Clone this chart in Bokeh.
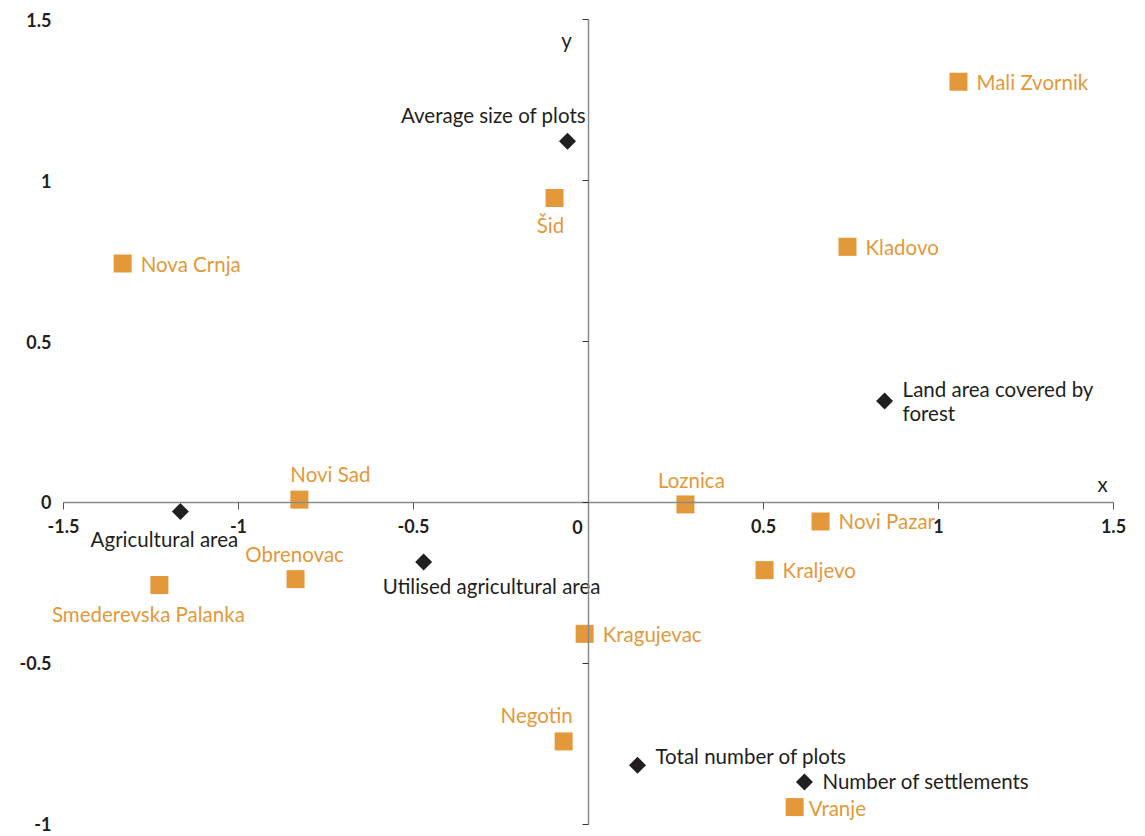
from math import pi

from bokeh.core.properties import value
from bokeh.embed import file_html
from bokeh.models import ColumnDataSource, FixedTicker, Label, LinearAxis, Range1d
from bokeh.plotting import figure
from bokeh.resources import INLINE

# District scores on the first two components
district_names = [
    "Mali Zvornik", "Šid", "Kladovo", "Nova Crnja", "Novi Sad", "Loznica",
    "Novi Pazar", "Obrenovac", "Smederevska Palanka", "Kraljevo",
    "Kragujevac", "Negotin", "Vranje",
]
district_x = [1.057, -0.097, 0.74, -1.331, -0.826, 0.277, 0.663, -0.837,
              -1.226, 0.503, -0.011, -0.071, 0.589]
district_y = [1.307, 0.946, 0.794, 0.742, 0.009, -0.006, -0.059, -0.238,
              -0.256, -0.21, -0.408, -0.742, -0.946]

# Variable loadings
variable_names = [
    "Average size of plots", "Land area covered by\nforest",
    "Agricultural area", "Utilised agricultural area",
    "Total number of plots", "Number of settlements",
]
variable_x = [-0.06, 0.846, -1.166, -0.471, 0.14, 0.617]
variable_y = [1.122, 0.315, -0.028, -0.185, -0.816, -0.868]

x_ticks = [-1.5, -1, -0.5, 0, 0.5, 1, 1.5]
x_tick_labels = ["-1.5", "-1", "-0.5", "", "0.5", "1", "1.5"]
y_ticks = [-1, -0.5, 0, 0.5, 1, 1.5]
y_tick_labels = ["-1", "-0.5", "0", "0.5", "1", "1.5"]

ORANGE = "#E3993A"
DARK = "#231F20"
AXIS_GREY = "#8A8A8A"
FONT = "Lato"
LABEL_SIZE = "20.5px"
TICK_SIZE = "18px"

# Label placement around each marker: (dx px, dy px, align); dy positive = down
RIGHT = (18, 0, "left")
placement = {
    "Mali Zvornik": RIGHT,
    "Šid": (-4, 27, "center"),
    "Kladovo": RIGHT,
    "Nova Crnja": RIGHT,
    "Novi Sad": (31, -26, "center"),
    "Loznica": (6, -24, "center"),
    "Novi Pazar": RIGHT,
    "Obrenovac": (-1, -25, "center"),
    "Smederevska Palanka": (-11, 29, "center"),
    "Kraljevo": RIGHT,
    "Kragujevac": RIGHT,
    "Negotin": (-27, -26, "center"),
    "Vranje": (14, 1, "left"),
    "Average size of plots": (-74, -26, "center"),
    "Land area covered by\nforest": RIGHT,
    "Agricultural area": (-16, 27, "center"),
    "Utilised agricultural area": (68, 24, "center"),
    "Total number of plots": (18, -9, "left"),
    "Number of settlements": (18, -1, "left"),
}


def label_source(names, xs, ys):
    return ColumnDataSource(dict(
        x=xs, y=ys, text=names,
        dx=[placement[n][0] for n in names],
        dy=[placement[n][1] for n in names],
        align=[placement[n][2] for n in names],
    ))


districts = label_source(district_names, district_x, district_y)
variables = label_source(variable_names, variable_x, variable_y)

p = figure(
    frame_width=1135, frame_height=829,
    x_range=Range1d(-1.6514, 1.5914), y_range=Range1d(-1.0373, 1.5373),
    x_axis_type=None, y_axis_type=None,
    output_backend="svg", toolbar_location=None,
    min_border_left=10, min_border_right=0, min_border_top=7, min_border_bottom=0,
    outline_line_color=None, background_fill_color="white",
)

# Tick values printed beside the left end of the horizontal axis
y_labels = LinearAxis(
    fixed_location=x_ticks[0],
    ticker=FixedTicker(ticks=y_ticks),
    major_label_overrides=dict(zip(y_ticks, y_tick_labels)),
    axis_line_color=None, major_tick_line_color=None, minor_tick_line_color=None,
    major_tick_out=0, major_tick_in=0, major_label_standoff=12,
    major_label_text_font=FONT, major_label_text_font_style="bold",
    major_label_text_font_size=TICK_SIZE, major_label_text_color=DARK,
)
p.add_layout(y_labels, "left")

# Axes crossing at the origin
x_axis = LinearAxis(
    fixed_location=0, bounds=(-1.5, 1.5),
    ticker=FixedTicker(ticks=x_ticks),
    major_label_overrides=dict(zip(x_ticks, x_tick_labels)),
    axis_line_color=AXIS_GREY, axis_line_width=1.5,
    major_tick_line_color="#555555", major_tick_in=0, major_tick_out=7,
    minor_tick_line_color=None, major_label_standoff=10,
    major_label_text_font=FONT, major_label_text_font_style="bold",
    major_label_text_font_size=TICK_SIZE, major_label_text_color=DARK,
)
p.add_layout(x_axis, "below")

y_axis = LinearAxis(
    fixed_location=0, bounds=(-1, 1.5),
    ticker=FixedTicker(ticks=y_ticks),
    major_label_overrides={t: "" for t in y_ticks},
    axis_line_color=AXIS_GREY, axis_line_width=1.5,
    major_tick_line_color="#333333", major_tick_in=0, major_tick_out=6,
    minor_tick_line_color=None, major_label_text_font_size="0px",
)
p.add_layout(y_axis, "left")

# Origin label sits just left of the vertical axis
p.add_layout(Label(x=0, y=0, x_offset=-11, y_offset=-25, text="0",
                   text_align="center", text_baseline="middle",
                   text_font=FONT, text_font_style="bold",
                   text_font_size=TICK_SIZE, text_color=DARK))
p.add_layout(Label(x=x_ticks[-1], y=0, x_offset=-11, y_offset=18, text="x",
                   text_align="center", text_baseline="middle",
                   text_font=FONT, text_font_size=LABEL_SIZE, text_color=DARK))
p.add_layout(Label(x=0, y=y_ticks[-1], x_offset=-22, y_offset=-20, text="y",
                   text_align="center", text_baseline="middle",
                   text_font=FONT, text_font_size=LABEL_SIZE, text_color=DARK))

p.scatter("x", "y", source=districts, marker="square", size=18,
          fill_color=ORANGE, line_color=None)
p.scatter("x", "y", source=variables, marker="square", angle=pi / 4, size=12,
          fill_color=DARK, line_color=None)

for src, color in ((districts, ORANGE), (variables, DARK)):
    p.text("x", "y", text="text", source=src, x_offset="dx", y_offset="dy",
           text_align="align", text_baseline="middle",
           text_font=value(FONT), text_font_size=LABEL_SIZE, text_color=color,
           text_line_height=1.02)

open("out.html", "w").write(file_html(p, INLINE))
